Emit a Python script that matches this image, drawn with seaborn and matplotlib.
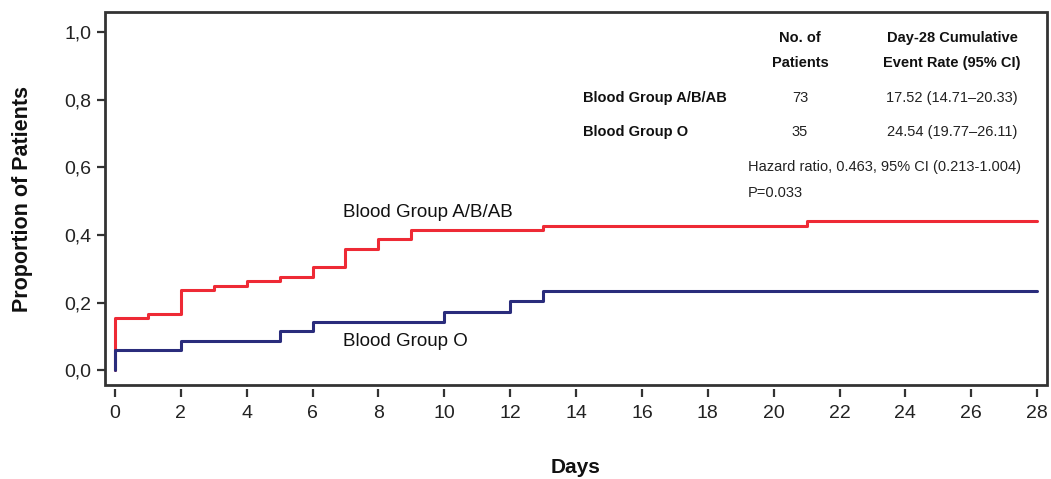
import numpy as np
import pandas as pd
import matplotlib
matplotlib.use("Agg")
import matplotlib.pyplot as plt
from matplotlib.patches import Rectangle
import seaborn as sns

# ---- data ----
groups = ["Blood Group A/B/AB", "Blood Group O"]
ab_days = [0, 0, 1, 2, 3, 4, 5, 6, 7, 8, 9, 13, 21, 28]
ab_prop = [0, 0.153, 0.166, 0.237, 0.249, 0.263, 0.276, 0.304, 0.358, 0.387, 0.414, 0.426, 0.440, 0.440]
o_days = [0, 0, 2, 5, 6, 10, 12, 13, 28]
o_prop = [0, 0.059, 0.087, 0.115, 0.143, 0.173, 0.204, 0.233, 0.233]
x_ticks = list(range(0, 29, 2))
y_ticks = [0.0, 0.2, 0.4, 0.6, 0.8, 1.0]
y_ticklabels = ["0,0", "0,2", "0,4", "0,6", "0,8", "1,0"]
table_header = ["No. of\nPatients", "Day-28 Cumulative\nEvent Rate (95% CI)"]
table_n = ["73", "35"]
table_rate = ["17.52 (14.71\u201320.33)", "24.54 (19.77\u201326.11)"]
hr_text = "Hazard ratio, 0.463, 95% CI (0.213-1.004)"
p_text = "P=0.033"

df = pd.concat([
    pd.DataFrame({"Days": ab_days, "Proportion": ab_prop, "Group": groups[0]}),
    pd.DataFrame({"Days": o_days, "Proportion": o_prop, "Group": groups[1]}),
], ignore_index=True)

sns.set_theme(style="white")
plt.rcParams["font.family"] = ["Liberation Sans", "DejaVu Sans"]

fig = plt.figure(figsize=(10.51, 4.79), dpi=100)
ax = fig.add_axes([0.0999, 0.196, 0.8963, 0.779])

palette = {groups[0]: "#ee2a35", groups[1]: "#2a2c7c"}
sns.lineplot(data=df, x="Days", y="Proportion", hue="Group", hue_order=groups,
             palette=palette, estimator=None, sort=False, drawstyle="steps-post",
             linewidth=2.2, legend=False, ax=ax)

for s in ax.spines.values():
    s.set_visible(False)
ax.spines["bottom"].set_position(("outward", 3))
ax.add_patch(Rectangle((0, 0), 1, 1, transform=ax.transAxes, fill=False,
                       edgecolor="#333333", linewidth=2, clip_on=False, zorder=5))

ax.set_xlim(-0.3, 28.3)
ax.set_ylim(-0.044, 1.059)
ax.set_xticks(x_ticks)
ax.set_xticklabels([str(t) for t in x_ticks], fontsize=14, color="#222222")
ax.set_yticks(y_ticks)
ax.set_yticklabels(y_ticklabels, fontsize=14, color="#222222")

ax.tick_params(axis="both", direction="out", length=6, width=1.6, color="#333333",
               bottom=True, left=True, pad=4)
ax.tick_params(axis="x", pad=5)

ax.set_xlabel("Days", fontsize=15, fontweight="bold", labelpad=26, color="#111111")
ax.set_ylabel("Proportion of Patients", fontsize=15.5, fontweight="bold", labelpad=22, color="#111111")

# curve labels
ax.text(6.92, 0.467, groups[0], fontsize=13.5, ha="left", va="center", color="#111111")
ax.text(6.92, 0.086, groups[1], fontsize=13.5, ha="left", va="center", color="#111111")

# table
hdr_kw = dict(fontsize=10.5, fontweight="bold", ha="center", va="center", color="#111111", linespacing=2.0)
ax.text(20.8, 0.946, table_header[0], **hdr_kw)
ax.text(25.42, 0.946, table_header[1], **hdr_kw)
row_y = [0.806, 0.705]
for i, g in enumerate(groups):
    ax.text(14.21, row_y[i], g, fontsize=10.5, fontweight="bold", ha="left", va="center", color="#111111")
    ax.text(20.8, row_y[i], table_n[i], fontsize=10.5, ha="center", va="center", color="#222222")
    ax.text(25.42, row_y[i], table_rate[i], fontsize=10.5, ha="center", va="center", color="#222222")
ax.text(19.22, 0.601, hr_text, fontsize=10.5, ha="left", va="center", color="#222222")
ax.text(19.22, 0.523, p_text, fontsize=10.5, ha="left", va="center", color="#222222")

fig.savefig("out.png", dpi=100)
